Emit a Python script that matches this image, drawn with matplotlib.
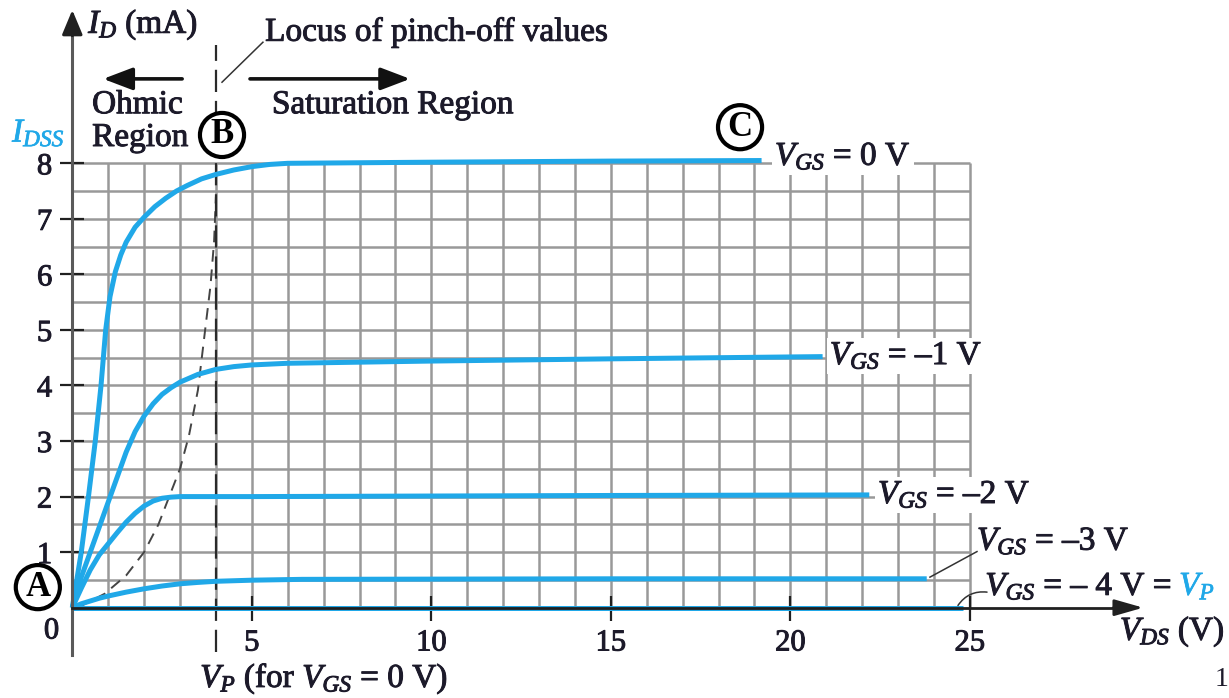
import numpy as np
import matplotlib
matplotlib.use("Agg")
import matplotlib.pyplot as plt
import matplotlib.patheffects as pe

plt.rcParams["font.family"] = ["Liberation Serif", "DejaVu Serif"]
plt.rcParams["mathtext.fontset"] = "custom"
plt.rcParams["mathtext.rm"] = "Liberation Serif"
plt.rcParams["mathtext.it"] = "Liberation Serif:italic"
plt.rcParams["mathtext.bf"] = "Liberation Serif:bold"

# Drain characteristics of an n-channel JFET: V_DS in volts, I_D in mA
vds_vgs0 = [0, 0.25, 0.45, 0.64, 0.8, 0.93, 1.05, 1.2, 1.35, 1.5, 1.75, 2.0, 2.3, 2.6, 2.9,
            3.2, 3.6, 4.0, 4.5, 5.0, 5.5, 6.0, 10.0, 15.0, 19.2]
id_vgs0 = [0, 1.0, 2.0, 3.0, 4.0, 5.0, 5.6, 6.05, 6.35, 6.58, 6.85, 7.03, 7.22, 7.37, 7.5,
           7.6, 7.72, 7.8, 7.88, 7.94, 7.98, 8.0, 8.02, 8.04, 8.05]

vds_vgs1 = [0, 0.25, 0.5, 0.75, 1.0, 1.25, 1.5, 1.75, 2.0, 2.25, 2.5, 2.75, 3.0, 3.5, 4.0,
            4.5, 5.0, 6.0, 10.0, 15.0, 20.9]
id_vgs1 = [0, 0.55, 1.0, 1.45, 1.9, 2.35, 2.8, 3.17, 3.45, 3.67, 3.84, 3.96, 4.06, 4.2, 4.29,
           4.34, 4.37, 4.4, 4.44, 4.48, 4.52]

vds_vgs2 = [0, 0.25, 0.5, 0.75, 1.0, 1.25, 1.5, 1.75, 2.0, 2.25, 2.5, 2.75, 3.0, 5.0, 10.0, 15.0, 22.2]
id_vgs2 = [0, 0.35, 0.68, 0.95, 1.15, 1.35, 1.54, 1.7, 1.83, 1.92, 1.97, 1.99, 2.0, 2.0, 2.01, 2.02, 2.03]

vds_vgs3 = [0, 0.25, 0.5, 0.75, 1.0, 1.5, 2.0, 2.5, 3.0, 3.5, 4.0, 5.0, 6.4, 15.0, 23.8]
id_vgs3 = [0, 0.07, 0.12, 0.17, 0.21, 0.28, 0.34, 0.39, 0.43, 0.455, 0.475, 0.495, 0.51, 0.52, 0.52]

vds_vgs4 = [0, 24.8]
id_vgs4 = [0, 0]

# locus of pinch-off points
vds_locus = [0.15, 0.9, 1.5, 2.0, 2.4, 2.73, 3.0, 3.25, 3.5, 3.7, 3.85, 3.95, 4.0]
id_locus = [0.0, 0.25, 0.58, 1.0, 1.5, 2.05, 2.5, 3.1, 3.92, 5.0, 5.8, 6.6, 7.4]

vp_volts = 4.0
x_ticks = [5, 10, 15, 20, 25]
y_ticks = [1, 2, 3, 4, 5, 6, 7, 8]

BLUE = "#20a8e8"
INK = "#1c1a2a"
GRID = "#999999"

# slightly heavier glyphs, like printed textbook type
HEAVY = [pe.withStroke(linewidth=0.7, foreground=INK)]
HEAVY_BLUE = [pe.withStroke(linewidth=0.5, foreground=BLUE)]

fig = plt.figure(figsize=(12.29, 6.98), dpi=100)
ax = fig.add_axes([0, 0, 1, 1])
ax.set_xlim(-2.014, 32.22)
ax.set_ylim(-1.626, 10.94)

# graph-paper grid: 1 V by 0.5 mA
ax.vlines(np.arange(1, 26), 0, 8, color=GRID, lw=1.8, zorder=1)
ax.hlines(np.arange(0.5, 8.5, 0.5), 0, 25, color=GRID, lw=1.8, zorder=1)

# axes with arrowheads
for side in ("top", "right"):
    ax.spines[side].set_visible(False)
ax.spines["left"].set_position(("data", 0))
ax.spines["bottom"].set_position(("data", 0))
ax.spines["left"].set_bounds(-0.85, 10.5)
ax.spines["bottom"].set_bounds(0, 29.4)
ax.spines["left"].set_color("#5a5a5a")
ax.spines["left"].set_linewidth(2.2)
ax.spines["bottom"].set_color("#202020")
ax.spines["bottom"].set_linewidth(2.0)
ax.spines["left"].set_zorder(4)
ax.spines["bottom"].set_zorder(4)
ax.annotate("", xy=(0, 10.76), xytext=(0, 10.3),
            arrowprops=dict(arrowstyle="-|>,head_length=0.6,head_width=0.25", mutation_scale=25,
                            color="#202020", lw=2.2, shrinkA=0, shrinkB=0), zorder=5)
ax.annotate("", xy=(29.83, 0), xytext=(29.0, 0),
            arrowprops=dict(arrowstyle="-|>,head_length=0.7,head_width=0.2", mutation_scale=25,
                            color="#202020", lw=2.0, shrinkA=0, shrinkB=0), zorder=5)

ax.set_xticks(x_ticks)
ax.set_xticklabels([str(v) for v in x_ticks])
ax.set_yticks(y_ticks)
ax.set_yticklabels([str(v) for v in y_ticks])
ax.tick_params(axis="x", direction="inout", length=18, width=1.6, color="#202020",
               labelsize=22, labelcolor=INK, pad=6)
ax.tick_params(axis="y", direction="inout", length=17, width=1.6, color="#202020",
               labelsize=22, labelcolor=INK, pad=6)
for lab in ax.get_xticklabels() + ax.get_yticklabels():
    lab.set_path_effects(HEAVY)
ax.text(-0.58, -0.42, "0", fontsize=22, color=INK, ha="center", va="center", path_effects=HEAVY)

# characteristic curves
curves = [(vds_vgs0, id_vgs0), (vds_vgs1, id_vgs1), (vds_vgs2, id_vgs2),
          (vds_vgs3, id_vgs3), (vds_vgs4, id_vgs4)]
for vx, iy in curves:
    ax.plot(vx, iy, color=BLUE, lw=3.6, solid_capstyle="butt", solid_joinstyle="round", zorder=3)

# pinch-off locus and V_P marker
ax.plot(vds_locus, id_locus, color="#444444", lw=1.4, ls=(0, (6, 4)), zorder=2)
ax.plot([vp_volts, vp_volts], [-0.8, 10.13], color="#2a2a2a", lw=1.6, ls=(0, (10, 4)), zorder=2)
ax.plot([4.17, 5.31], [9.46, 10.18], color="#333333", lw=1.1, zorder=2)

# region arrows
ax.annotate("", xy=(0.86, 9.52), xytext=(3.06, 9.52),
            arrowprops=dict(arrowstyle="-|>,head_length=1.0,head_width=0.38", mutation_scale=18,
                            color="#111111", lw=2.6, shrinkA=0, shrinkB=0))
ax.annotate("", xy=(9.41, 9.52), xytext=(4.95, 9.52),
            arrowprops=dict(arrowstyle="-|>,head_length=1.0,head_width=0.38", mutation_scale=18,
                            color="#111111", lw=2.6, shrinkA=0, shrinkB=0))

TXT = dict(fontsize=24, color=INK, path_effects=HEAVY)
ax.text(0.44, 10.49, r"$I_D$ (mA)", ha="left", va="center", **TXT)
ax.text(5.37, 10.36, "Locus of pinch-off values", ha="left", va="center", **TXT)
ax.text(0.55, 9.05, "Ohmic", ha="left", va="center", **TXT)
ax.text(0.55, 8.46, "Region", ha="left", va="center", **TXT)
ax.text(5.56, 9.05, "Saturation Region", ha="left", va="center", **TXT)
ax.text(-1.68, 8.54, r"$I_{DSS}$", ha="left", va="center", fontsize=24, color=BLUE,
        path_effects=HEAVY_BLUE)

# curve labels
box = dict(facecolor="white", edgecolor="none", pad=2)
ax.text(19.57, 7.97, r"$V_{GS}$ = 0 V", ha="left", va="baseline", bbox=box, zorder=6, **TXT)
ax.text(21.1, 4.38, r"$V_{GS}$ = –1 V", ha="left", va="baseline", bbox=box, zorder=6, **TXT)
ax.text(22.44, 1.88, r"$V_{GS}$ = –2 V", ha="left", va="baseline", bbox=box, zorder=6, **TXT)
ax.text(25.2, 1.04, r"$V_{GS}$ = –3 V", ha="left", va="baseline", zorder=6, **TXT)
t4 = ax.text(25.43, 0.23, r"$V_{GS}$ = – 4 V =", ha="left", va="baseline", zorder=6, **TXT)
ax.annotate(r"$V_P$", xy=(1, 0), xycoords=t4, xytext=(5, 0), textcoords="offset points",
            ha="left", va="bottom", fontsize=24, color=BLUE, path_effects=HEAVY_BLUE)
ax.plot([23.89, 25.2], [0.55, 1.01], color="#333333", lw=1.1, zorder=5)
ax.annotate("", xy=(25.48, 0.28), xytext=(24.67, 0.04),
            arrowprops=dict(arrowstyle="-", color="#333333", lw=1.1,
                            connectionstyle="arc3,rad=-0.3", shrinkA=0, shrinkB=0))

ax.text(29.18, -0.58, r"$V_{DS}$ (V)", ha="left", va="baseline", **TXT)
ax.text(3.56, -1.43, r"$V_P$ (for $V_{GS}$ = 0 V)", ha="left", va="baseline", **TXT)

# operating-point markers
circ = dict(boxstyle="circle,pad=0.16", facecolor="white", edgecolor="black", lw=3)
for letter, cx, cy in (("B", 4.17, 8.51), ("C", 18.6, 8.65), ("A", -0.96, 0.37)):
    ax.text(cx, cy, letter, ha="center", va="center", fontsize=25, color="black",
            fontweight="bold", bbox=circ, zorder=7)

ax.text(32.2, -1.3, "1", ha="right", va="center", fontsize=20, color=INK)

fig.savefig("out.png", dpi=100)
